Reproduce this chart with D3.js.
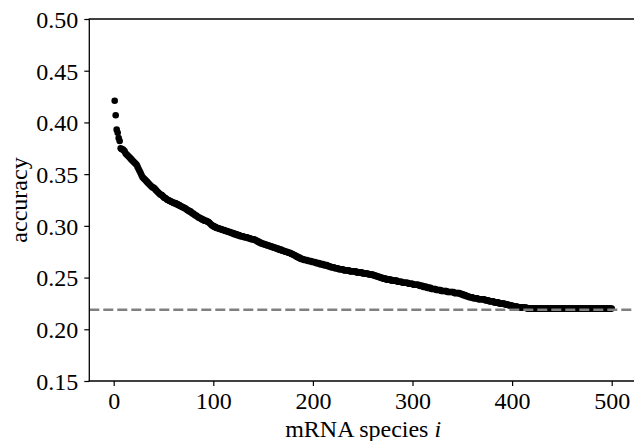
<!DOCTYPE html>
<html><head><meta charset="utf-8">
<script src="https://cdn.jsdelivr.net/npm/d3@7"></script>
<style>html,body{margin:0;padding:0;background:#fff;overflow:hidden}</style>
</head><body>
<script>
const accuracy = [
0.421,0.407,0.393,0.390,0.385,0.382,0.375,0.374,0.374,0.373,
0.372,0.370,0.369,0.368,0.367,0.366,0.365,0.364,0.363,0.362,
0.361,0.360,0.359,0.357,0.355,0.353,0.351,0.349,0.347,0.346,
0.345,0.344,0.343,0.342,0.341,0.340,0.339,0.338,0.337,0.337,
0.336,0.335,0.334,0.333,0.332,0.331,0.330,0.330,0.329,0.328,
0.327,0.327,0.326,0.325,0.325,0.324,0.324,0.323,0.323,0.322,
0.322,0.322,0.321,0.321,0.320,0.320,0.319,0.319,0.318,0.318,
0.317,0.317,0.316,0.315,0.315,0.314,0.314,0.313,0.312,0.312,
0.311,0.310,0.310,0.309,0.308,0.308,0.307,0.307,0.306,0.306,
0.305,0.305,0.305,0.304,0.304,0.303,0.302,0.301,0.300,0.300,
0.299,0.299,0.298,0.298,0.298,0.297,0.297,0.297,0.296,0.296,
0.296,0.295,0.295,0.295,0.294,0.294,0.294,0.293,0.293,0.293,
0.292,0.292,0.292,0.291,0.291,0.291,0.290,0.290,0.290,0.290,
0.289,0.289,0.289,0.289,0.288,0.288,0.288,0.287,0.287,0.287,
0.287,0.286,0.286,0.285,0.285,0.284,0.284,0.283,0.283,0.283,
0.282,0.282,0.282,0.281,0.281,0.281,0.280,0.280,0.280,0.279,
0.279,0.279,0.278,0.278,0.278,0.277,0.277,0.277,0.276,0.276,
0.276,0.275,0.275,0.275,0.274,0.274,0.274,0.273,0.273,0.272,
0.272,0.271,0.271,0.270,0.270,0.269,0.269,0.268,0.268,0.268,
0.267,0.267,0.267,0.267,0.266,0.266,0.266,0.266,0.265,0.265,
0.265,0.265,0.264,0.264,0.264,0.264,0.263,0.263,0.263,0.263,
0.262,0.262,0.262,0.262,0.261,0.261,0.261,0.260,0.260,0.260,
0.260,0.259,0.259,0.259,0.259,0.258,0.258,0.258,0.258,0.258,
0.257,0.257,0.257,0.257,0.257,0.257,0.256,0.256,0.256,0.256,
0.256,0.256,0.256,0.255,0.255,0.255,0.255,0.255,0.255,0.254,
0.254,0.254,0.254,0.254,0.254,0.253,0.253,0.253,0.253,0.253,
0.252,0.252,0.252,0.251,0.251,0.251,0.250,0.250,0.250,0.249,
0.249,0.249,0.249,0.248,0.248,0.248,0.248,0.248,0.247,0.247,
0.247,0.247,0.247,0.247,0.246,0.246,0.246,0.246,0.246,0.245,
0.245,0.245,0.245,0.245,0.245,0.244,0.244,0.244,0.244,0.244,
0.243,0.243,0.243,0.243,0.243,0.243,0.242,0.242,0.242,0.242,
0.241,0.241,0.241,0.241,0.240,0.240,0.240,0.240,0.239,0.239,
0.239,0.239,0.239,0.238,0.238,0.238,0.238,0.238,0.237,0.237,
0.237,0.237,0.237,0.237,0.236,0.236,0.236,0.236,0.236,0.236,
0.236,0.235,0.235,0.235,0.235,0.235,0.235,0.234,0.234,0.234,
0.233,0.233,0.233,0.232,0.232,0.232,0.231,0.231,0.231,0.231,
0.230,0.230,0.230,0.230,0.230,0.229,0.229,0.229,0.229,0.229,
0.229,0.229,0.228,0.228,0.228,0.228,0.227,0.227,0.227,0.227,
0.227,0.226,0.226,0.226,0.226,0.226,0.225,0.225,0.225,0.225,
0.225,0.225,0.224,0.224,0.224,0.224,0.223,0.223,0.223,0.223,
0.222,0.222,0.222,0.222,0.222,0.221,0.221,0.221,0.221,0.221,
0.221,0.221,0.221,0.221,0.220,0.220,0.220,0.220,0.220,0.220,
0.220,0.220,0.220,0.220,0.220,0.220,0.220,0.220,0.220,0.220,
0.220,0.220,0.220,0.220,0.220,0.220,0.220,0.220,0.220,0.220,
0.220,0.220,0.220,0.220,0.220,0.220,0.220,0.220,0.220,0.220,
0.220,0.220,0.220,0.220,0.220,0.220,0.220,0.220,0.220,0.220,
0.220,0.220,0.220,0.220,0.220,0.220,0.220,0.220,0.220,0.220,
0.220,0.220,0.220,0.220,0.220,0.220,0.220,0.220,0.220,0.220,
0.220,0.220,0.220,0.220,0.220,0.220,0.220,0.220,0.220,0.220,
0.220,0.220,0.220,0.220,0.220,0.220,0.220,0.220,0.220,0.220
];
const species = accuracy.map((_, k) => k + 1);
const baseline = [0.219];
const xTicks = [0, 100, 200, 300, 400, 500];
const yTicks = [0.15, 0.20, 0.25, 0.30, 0.35, 0.40, 0.45, 0.50];

const W = 634, H = 441;
const mLeft = 89.3, mTop = 19, mBottom = 381;
const font = "'Liberation Serif', 'Times New Roman', serif";

const svg = d3.select("body").append("svg").attr("width", W).attr("height", H)
  .style("font-family", font);

const x = d3.scaleLinear().domain([-24.5, 525.5]).range([mLeft, mLeft + 550 * 0.996]);
const y = d3.scaleLinear().domain([0.15, 0.50]).range([mBottom, mTop]);

// points
svg.append("g").selectAll("circle").data(accuracy).join("circle")
  .attr("cx", (d, k) => x(species[k]))
  .attr("cy", d => y(d))
  .attr("r", 3.3)
  .attr("fill", "#000");

// dashed baseline (drawn above the points)
svg.append("g").selectAll("line").data(baseline).join("line")
  .attr("x1", mLeft).attr("x2", W)
  .attr("y1", d => y(d)).attr("y2", d => y(d))
  .attr("stroke", "#808080").attr("stroke-width", 2.5)
  .attr("stroke-dasharray", "10,4");

// axes
const xAxis = d3.axisBottom(x).tickValues(xTicks).tickSize(5).tickPadding(6)
  .tickFormat(d3.format("d"));
const yAxis = d3.axisLeft(y).tickValues(yTicks).tickSize(5).tickPadding(6)
  .tickFormat(d3.format(".2f"));

const gx = svg.append("g").attr("transform", `translate(0,${mBottom})`).call(xAxis);
const gy = svg.append("g").attr("transform", `translate(${mLeft},0)`).call(yAxis);
[gx, gy].forEach(g => {
  g.select(".domain").remove();
  g.selectAll(".tick line").attr("stroke", "#000").attr("stroke-width", 1.2);
  g.selectAll(".tick text").attr("fill", "#000").style("font-size", "24px")
    .style("font-family", font);
});
gy.selectAll(".tick text").attr("dy", "0.35em");
gx.selectAll(".tick text").attr("dy", "0.72em");

// spines
svg.append("line").attr("x1", mLeft).attr("x2", mLeft).attr("y1", mTop).attr("y2", mBottom)
  .attr("stroke", "#000").attr("stroke-width", 1.3);
svg.append("line").attr("x1", mLeft - 0.65).attr("x2", W).attr("y1", mBottom).attr("y2", mBottom)
  .attr("stroke", "#000").attr("stroke-width", 1.3);
svg.append("line").attr("x1", mLeft - 0.65).attr("x2", W).attr("y1", mTop).attr("y2", mTop)
  .attr("stroke", "#000").attr("stroke-width", 1.3);

// labels
const xl = svg.append("text").attr("x", (mLeft + 637) / 2).attr("y", 437)
  .attr("text-anchor", "middle").style("font-size", "24px");
xl.append("tspan").text("mRNA species ");
xl.append("tspan").attr("font-style", "italic").text("i");

svg.append("text").attr("transform", `translate(27,${(mTop + mBottom) / 2}) rotate(-90)`)
  .attr("text-anchor", "middle").style("font-size", "24px").text("accuracy");
</script>
</body></html>
